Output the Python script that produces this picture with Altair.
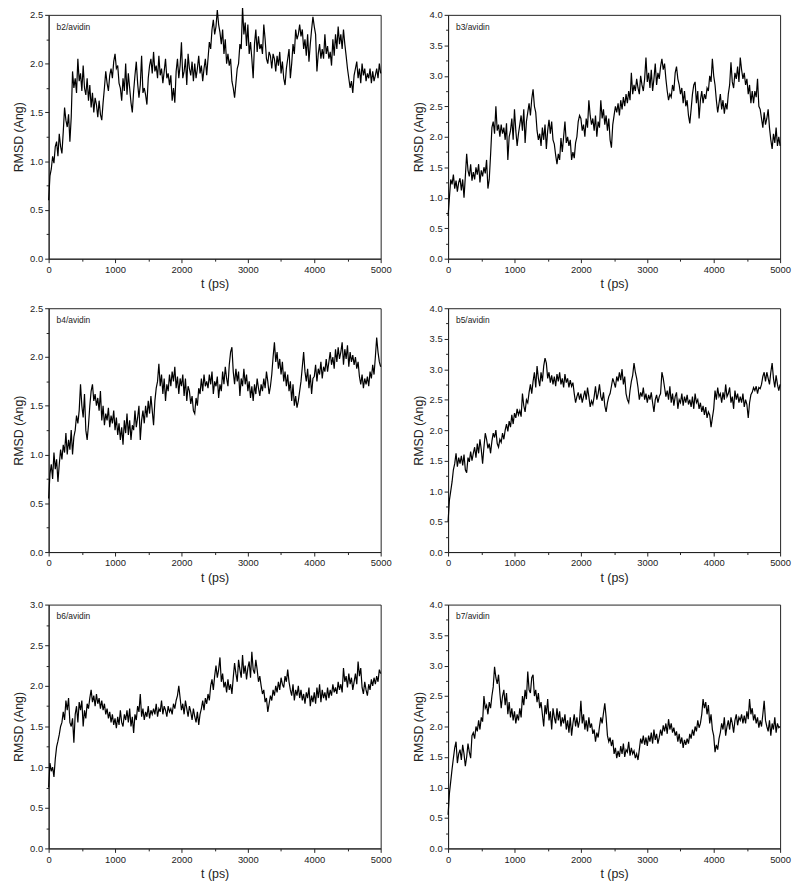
import altair as alt
import pandas as pd

t = list(range(0, 5001, 20))

b2 = [0.6, 0.85, 0.92, 1.05, 0.98, 1.15, 1.2, 1.05, 1.28, 1.15,
      1.08, 1.3, 1.55, 1.42, 1.35, 1.48, 1.2, 1.45, 1.92, 1.75,
      1.85, 1.7, 2.05, 1.82, 1.9, 1.72, 1.98, 1.75, 1.68, 1.85,
      1.62, 1.78, 1.55, 1.7, 1.5, 1.65, 1.58, 1.45, 1.62, 1.48,
      1.42, 1.6, 1.75, 1.92, 1.8, 1.72, 1.88, 1.95, 1.85, 2.02,
      2.1, 1.95, 1.98, 1.8, 1.75, 1.62, 1.85, 1.72, 2.0, 1.68,
      1.9, 1.75, 1.6, 1.5, 1.72, 1.88, 2.02, 1.8, 1.65, 1.78,
      2.08, 1.7, 1.75, 1.68, 1.58, 1.85, 1.98, 2.05, 1.9, 2.12,
      1.92, 1.98, 1.85, 2.08, 1.88, 1.95, 1.8, 1.92, 2.05, 1.85,
      1.9, 1.78, 1.88, 1.62, 1.75, 1.6, 1.92, 2.05, 1.85, 1.98,
      2.22, 1.85, 1.92, 2.05, 1.78, 2.1, 1.95, 1.88, 2.02, 1.82,
      2.0, 1.85, 1.95, 2.08, 1.9, 1.98, 1.82, 1.95, 2.05, 1.88,
      2.05, 2.22, 2.15, 2.35, 2.45, 2.3, 2.38, 2.55, 2.4, 2.32,
      2.2, 2.35, 2.1, 2.25, 2.0, 2.1, 1.98, 2.05, 1.82, 1.75,
      1.65, 1.8, 1.95, 2.0, 2.2, 2.15, 2.58, 2.3, 2.42, 2.18,
      2.4, 2.1, 2.22, 2.05, 1.85, 2.2, 2.35, 2.12, 2.28, 2.15,
      2.2, 2.1, 2.4, 2.25, 2.05, 2.0, 2.12, 2.08, 1.95, 2.1,
      2.05, 1.92, 2.08, 1.98, 2.12, 1.9, 2.02, 1.85, 1.78, 1.95,
      2.05, 2.15, 1.85, 2.0, 2.2, 2.1, 2.35, 2.25, 2.3, 2.4,
      2.28, 2.35, 2.15, 2.25, 2.08, 2.3, 2.02, 2.2, 2.35, 2.48,
      2.38, 2.3, 1.92, 2.1, 2.2, 2.05, 2.15, 2.05, 2.3, 2.1,
      2.18, 2.05, 2.12, 1.98, 2.25, 2.08, 2.3, 2.15, 2.38, 2.2,
      2.3, 2.15, 2.35, 2.2, 2.08, 1.95, 1.85, 1.75, 1.82, 1.7,
      1.88, 1.95, 2.02, 1.85, 1.95, 1.8, 2.0, 1.88, 1.95, 1.82,
      1.9, 1.85, 1.95, 1.8, 1.92, 1.82, 1.88, 1.95, 1.85, 2.0,
      1.9]

b3 = [0.7, 1.0, 1.3, 1.22, 1.38, 1.15, 1.28, 1.1, 1.25, 1.32,
      1.12, 1.3, 1.0, 1.35, 1.72, 1.45, 1.35, 1.55, 1.28, 1.42,
      1.3, 1.5, 1.38, 1.55, 1.25, 1.45, 1.35, 1.5, 1.4, 1.62,
      1.15, 1.3, 1.7, 2.15, 2.25, 2.05, 2.5, 2.1, 2.2, 2.0,
      2.2, 2.05, 2.15, 1.95, 2.22, 1.62, 2.0, 2.1, 2.3, 1.95,
      2.45, 2.1, 1.85, 2.05, 2.2, 2.35, 2.1, 2.45, 1.9, 2.25,
      2.4, 2.55, 2.35, 2.62, 2.78, 2.5, 2.4, 2.1, 1.95, 2.05,
      1.85, 2.15, 1.95, 2.2, 1.8, 2.1, 2.28, 2.05, 2.25, 1.95,
      1.88, 1.7, 1.55, 1.72, 1.62, 1.98, 1.75, 2.0, 2.25, 1.9,
      2.0, 1.85, 1.95, 1.62, 1.75, 1.65, 1.9, 2.0, 2.25, 2.35,
      2.3, 2.1, 2.2, 2.0, 2.3, 2.15, 2.6, 2.35, 2.2, 2.3,
      2.1, 2.35, 2.0, 2.25, 2.15, 2.6, 2.3, 2.45, 2.2, 2.35,
      2.1, 2.3, 1.95, 1.82, 2.2, 2.35, 2.5, 2.4, 2.55, 2.35,
      2.6, 2.45, 2.65, 2.5, 2.7, 2.55, 2.75, 2.6, 3.05, 2.7,
      2.85, 2.75, 2.95, 2.8, 2.7, 3.0, 2.85, 2.75, 2.95, 3.3,
      2.9, 3.05, 2.8, 3.1, 2.75, 2.95, 3.2, 2.85, 3.05, 2.95,
      3.15, 3.28, 3.1, 3.2, 2.95, 2.75, 2.6, 2.7, 2.65, 2.85,
      2.75, 3.05, 3.15, 2.95, 2.85, 2.7, 2.8, 2.55, 2.75, 2.5,
      2.6, 2.35, 2.22, 2.45, 2.7, 2.85, 2.9, 2.55, 2.75, 2.3,
      2.6, 2.75, 2.55, 2.7, 2.62, 2.8, 2.75, 3.0, 2.9, 3.28,
      3.0, 2.85, 2.6, 2.4, 2.55, 2.7, 2.45, 2.6, 2.38, 2.55,
      2.45, 2.7, 2.85, 3.22, 2.9, 2.8, 3.05, 2.95, 3.15, 2.9,
      3.3, 3.1, 2.95, 3.05, 2.85, 2.95, 2.7, 2.85, 2.55, 2.75,
      2.55, 2.75, 2.65, 2.95, 2.5, 2.45, 2.3, 2.15, 2.4, 2.2,
      2.3, 2.45, 2.15, 1.95, 1.8, 2.05, 1.9, 2.15, 1.85, 2.0,
      1.85]

b4 = [0.55, 0.8, 0.9, 0.75, 1.02, 0.85, 0.95, 0.72, 0.9, 1.05,
      0.95, 1.1, 1.02, 1.22, 1.0, 1.15, 1.05, 1.25, 1.0, 1.18,
      1.25, 1.4, 1.32, 1.45, 1.72, 1.5, 1.38, 1.62, 1.25, 1.15,
      1.3, 1.5, 1.65, 1.72, 1.55, 1.62, 1.5, 1.58, 1.45, 1.65,
      1.35, 1.5, 1.3, 1.42, 1.35, 1.48, 1.28, 1.4, 1.32, 1.45,
      1.25, 1.38, 1.2, 1.32, 1.15, 1.28, 1.1, 1.35, 1.22, 1.42,
      1.2, 1.35, 1.15, 1.3, 1.25, 1.45, 1.28, 1.38, 1.5, 1.15,
      1.35, 1.45, 1.32, 1.5, 1.38, 1.55, 1.42, 1.6, 1.45, 1.3,
      1.55, 1.68, 1.75, 1.93, 1.7, 1.82, 1.62, 1.78, 1.55, 1.72,
      1.65, 1.82, 1.7, 1.85, 1.75, 1.9, 1.68, 1.8, 1.62, 1.78,
      1.7, 1.82, 1.6, 1.78, 1.55, 1.7, 1.65, 1.52, 1.6, 1.45,
      1.42, 1.58, 1.5, 1.68, 1.62, 1.78, 1.65, 1.82, 1.7, 1.75,
      1.68, 1.82, 1.72, 1.85, 1.62, 1.75, 1.7, 1.8, 1.58, 1.72,
      1.65, 1.85, 1.72, 1.9, 1.78, 1.7, 1.92, 2.05, 2.1, 1.85,
      1.72, 1.88, 1.75, 1.85, 1.6, 1.78, 1.7, 1.88, 1.72, 1.82,
      1.65, 1.75, 1.58, 1.7, 1.55, 1.72, 1.62, 1.78, 1.68, 1.6,
      1.72, 1.65, 1.78, 1.68, 1.85, 1.75, 1.62, 1.7, 1.82, 2.0,
      2.15, 1.95, 2.05, 1.88, 1.98, 1.82, 1.95, 1.75, 1.85, 1.7,
      1.82, 1.65, 1.75, 1.55, 1.72, 1.5, 1.6, 1.48, 1.55, 1.65,
      1.75, 1.9, 2.05, 1.85, 1.75, 1.88, 1.68, 1.82, 1.62, 1.78,
      1.8, 1.92, 1.75, 1.88, 1.82, 1.95, 1.78, 1.9, 1.85, 1.98,
      1.85, 1.95, 2.05, 1.92, 2.0, 1.88, 2.08, 1.95, 2.1, 1.98,
      2.05, 2.15, 1.92, 2.08, 1.98, 2.12, 1.9, 2.05, 1.95, 2.02,
      1.92, 2.0, 1.88, 1.95, 1.8, 1.72, 1.82, 1.68, 1.78, 1.72,
      1.8, 1.7, 1.85, 1.78, 1.92, 1.82, 2.0, 2.2, 2.05, 1.95,
      1.9]

b5 = [0.5, 0.85, 1.0, 1.15, 1.35, 1.45, 1.62, 1.4, 1.55, 1.45,
      1.58, 1.42, 1.6, 1.35, 1.3, 1.55, 1.48, 1.65, 1.5, 1.62,
      1.72, 1.55, 1.78, 1.62, 1.85, 1.68, 1.45, 1.72, 1.95, 1.85,
      1.7, 1.78, 1.62, 1.82, 1.95, 1.88, 2.0, 1.78, 1.72, 1.85,
      1.8, 1.95, 1.85, 2.0, 2.1, 1.98, 2.15, 2.05, 2.25, 2.1,
      2.28, 2.2, 2.35, 2.25, 2.32, 2.22, 2.6, 2.4, 2.3, 2.5,
      2.45, 2.62, 2.75, 2.6, 2.8, 2.95, 2.7, 3.05, 2.85, 2.72,
      2.95, 2.8, 3.05, 3.18, 3.1, 2.85, 2.95, 2.78, 2.9, 2.75,
      2.88, 2.72, 2.92, 2.8, 2.95, 2.75, 2.85, 2.7, 2.92, 2.78,
      2.85, 2.7, 2.82, 2.72, 2.78, 2.6, 2.45, 2.55, 2.62, 2.5,
      2.6, 2.45, 2.55, 2.65, 2.5, 2.7, 2.55, 2.38, 2.48, 2.42,
      2.55, 2.72, 2.5, 2.6, 2.75, 2.55, 2.48, 2.62, 2.4, 2.3,
      2.45, 2.55, 2.6, 2.72, 2.85, 2.78, 2.7, 2.88, 2.8, 2.95,
      2.82, 3.0, 2.75, 2.88, 2.6, 2.5, 2.45, 2.65, 2.8, 2.9,
      3.1, 2.95, 2.85, 2.7, 2.5, 2.62, 2.55, 2.7, 2.5, 2.6,
      2.45, 2.58, 2.5, 2.62, 2.45, 2.3, 2.5, 2.58, 2.45, 2.55,
      2.6, 2.95, 2.85, 2.7, 2.55, 2.65, 2.5, 2.72, 2.45, 2.6,
      2.4, 2.55, 2.62, 2.35, 2.5, 2.45, 2.6, 2.4, 2.55, 2.45,
      2.58, 2.42, 2.5, 2.38, 2.55, 2.35, 2.6, 2.45, 2.5, 2.35,
      2.45, 2.3, 2.4, 2.25, 2.38, 2.2, 2.3, 2.25, 2.05, 2.2,
      2.35, 2.65, 2.5, 2.7, 2.55, 2.6, 2.45, 2.62, 2.5, 2.75,
      2.55, 2.6, 2.7, 2.45, 2.55, 2.35, 2.65, 2.5, 2.6, 2.45,
      2.55, 2.45, 2.6, 2.38, 2.5, 2.42, 2.2, 2.45, 2.58, 2.62,
      2.7, 2.65, 2.72, 2.6, 2.7, 2.68, 2.75, 2.88, 2.95, 2.8,
      2.95, 2.85, 2.75, 2.95, 3.1, 2.85, 2.7, 2.9, 2.75, 2.65,
      2.75]

b6 = [0.75, 1.05, 0.95, 1.0, 0.88, 1.1, 1.25, 1.32, 1.4, 1.5,
      1.55, 1.68, 1.58, 1.82, 1.7, 1.85, 1.55, 1.5, 1.6, 1.3,
      1.65, 1.75, 1.55, 1.8, 1.7, 1.82, 1.5, 1.7, 1.6, 1.78,
      1.72, 1.85, 1.95, 1.8, 1.88, 1.75, 1.9, 1.78, 1.85, 1.72,
      1.82, 1.7, 1.78, 1.65, 1.72, 1.6, 1.68, 1.55, 1.65, 1.52,
      1.6, 1.48, 1.62, 1.52, 1.7, 1.55, 1.5, 1.65, 1.58, 1.7,
      1.55, 1.72, 1.5, 1.62, 1.42, 1.65, 1.58, 1.75, 1.68, 1.9,
      1.62, 1.72, 1.58, 1.68, 1.62, 1.75, 1.6, 1.7, 1.65, 1.72,
      1.65, 1.78, 1.62, 1.72, 1.68, 1.82, 1.65, 1.75, 1.7, 1.62,
      1.75, 1.68, 1.72, 1.65, 1.78, 1.72, 1.82, 1.88, 2.0, 1.85,
      1.7, 1.78, 1.65, 1.82, 1.72, 1.62, 1.75, 1.68, 1.58, 1.72,
      1.62, 1.55, 1.68, 1.52, 1.65, 1.72, 1.82, 1.7, 1.85, 1.78,
      1.9, 1.82, 2.0, 2.08, 1.95, 2.12, 2.25, 2.1, 2.2, 2.35,
      2.05, 2.15, 1.98, 2.05, 1.92, 2.08, 1.95, 2.02, 1.9, 2.1,
      2.28, 2.15, 2.05, 2.32, 2.2, 2.1, 2.38, 2.15, 2.25, 2.08,
      2.22, 2.3, 2.1, 2.42, 2.2, 2.15, 2.32, 2.2, 2.05, 2.12,
      2.0, 1.9, 1.95, 1.8, 1.85, 1.68, 1.78, 1.88, 1.82, 1.95,
      1.88, 2.0, 1.92, 2.05, 1.95, 2.1, 2.02, 1.98, 2.12, 2.05,
      2.2, 2.05, 1.95, 1.88, 2.02, 1.82, 1.95, 1.88, 2.0, 1.85,
      1.95, 1.82, 1.9, 1.78, 1.92, 1.85, 1.98, 1.75, 1.88, 1.8,
      1.92, 1.78, 1.98, 1.85, 2.02, 1.8, 1.95, 1.85, 1.92, 1.82,
      1.98, 1.85, 1.95, 1.88, 2.02, 1.92, 1.98, 1.9, 2.05, 1.95,
      2.02, 1.92, 2.22, 2.05, 2.12, 1.98, 2.15, 2.02, 2.1, 1.95,
      2.05, 2.15, 2.02, 2.3, 2.12, 2.22, 1.98, 1.9, 2.05, 1.95,
      1.88, 2.02, 1.95, 2.08, 2.0, 2.1, 2.02, 2.12, 2.05, 2.2,
      2.15]

b7 = [0.55, 0.9, 1.1, 1.3, 1.48, 1.65, 1.75, 1.4, 1.55, 1.62,
      1.45, 1.7, 1.55, 1.35, 1.5, 1.72, 1.58, 1.48, 1.85, 1.9,
      1.8, 2.0, 1.92, 2.1, 1.95, 2.15, 2.08, 2.5, 2.3, 2.35,
      2.2, 2.4, 2.3, 2.5, 2.65, 2.98, 2.8, 2.7, 2.85, 2.55,
      2.3, 2.5, 2.6, 2.35, 2.55, 2.2, 2.4, 2.15, 2.3, 2.1,
      2.25, 2.05, 2.2, 2.1, 2.3, 2.15, 2.5, 2.35, 2.6, 2.45,
      2.9, 2.6, 2.55, 2.8, 2.85, 2.5, 2.6, 2.4, 2.55, 2.3,
      2.4, 2.2, 2.0, 2.35, 2.2, 2.45, 2.1, 2.25, 1.95, 2.3,
      2.15, 2.05, 2.3, 2.1, 2.25, 2.0, 2.15, 2.05, 2.2, 1.95,
      2.1, 1.9, 2.15, 1.85, 2.05, 2.2, 2.0, 2.15, 1.98, 2.1,
      2.42, 2.05, 2.2, 1.95, 2.1, 1.92, 2.15, 1.98, 2.05, 1.88,
      1.95, 1.75, 1.9, 1.82, 2.0, 2.15, 2.05, 2.22, 2.38, 2.15,
      1.85, 1.75, 1.82, 1.68, 1.78, 1.55, 1.65, 1.48, 1.6, 1.5,
      1.68, 1.55, 1.72, 1.5, 1.62, 1.58, 1.75, 1.52, 1.65, 1.55,
      1.6, 1.48, 1.55, 1.45, 1.62, 1.8, 1.72, 1.85, 1.7, 1.82,
      1.68, 1.85, 1.75, 1.9, 1.72, 1.95, 1.78, 1.88, 1.72, 1.82,
      1.95, 1.85, 2.02, 1.92, 2.05, 1.88, 2.12, 1.95, 2.05, 1.9,
      1.98, 1.85, 1.92, 1.75, 1.88, 1.72, 1.82, 1.65, 1.78, 1.7,
      1.8, 1.72, 1.88, 1.8, 1.95, 1.85, 2.0, 1.92, 2.1, 1.98,
      2.05, 2.2, 2.45, 2.3, 2.4, 2.2, 2.35, 2.05, 2.2, 1.95,
      1.85, 1.58, 1.7, 1.62, 1.8, 1.9, 2.05, 1.95, 2.15, 1.85,
      2.0, 2.1, 1.95, 2.15, 2.05, 1.9, 2.1, 2.2, 2.02, 2.15,
      2.1, 2.2, 2.05, 2.18, 2.05, 2.25, 2.12, 2.45, 2.2, 2.3,
      2.1, 2.2, 2.05, 2.15, 1.98, 2.1, 2.0, 2.2, 2.42, 2.1,
      2.0, 1.92, 2.1, 1.85, 2.05, 1.95, 2.15, 1.9, 2.05, 1.98,
      2.0]

panels = [
    ("b2/avidin", b2, 2.5),
    ("b3/avidin", b3, 4.0),
    ("b4/avidin", b4, 2.5),
    ("b5/avidin", b5, 4.0),
    ("b6/avidin", b6, 3.0),
    ("b7/avidin", b7, 4.0),
]

x_ticks = list(range(0, 5001, 500))

FONT = "Liberation Sans"
W, H = 335, 246


def panel(name, vals, ymax):
    df = pd.DataFrame({"t": t, "rmsd": vals})
    y_ticks = [i * 0.25 for i in range(int(round(ymax / 0.25)) + 1)]
    line = alt.Chart(df).mark_line(color="black", strokeWidth=1.2).encode(
        x=alt.X(
            "t:Q",
            scale=alt.Scale(domain=[0, 5000], nice=False),
            axis=alt.Axis(
                values=x_ticks,
                title="t (ps)",
                labelExpr="datum.value % 1000 == 0 ? datum.label : ''",
                tickSize={"condition": {"test": "datum.value % 1000 == 0", "value": 4}, "value": 2.5},
                labelFlush=False,
                labelOverlap=False,
                format="d",
            ),
        ),
        y=alt.Y(
            "rmsd:Q",
            scale=alt.Scale(domain=[0, ymax], nice=False),
            axis=alt.Axis(
                values=y_ticks,
                title="RMSD (Ang)",
                labelExpr="datum.value % 0.5 == 0 ? format(datum.value, '.1f') : ''",
                tickSize={"condition": {"test": "datum.value % 0.5 == 0", "value": 4}, "value": 2.5},
                labelFlush=False,
                labelOverlap=False,
            ),
        ),
    )
    label = alt.Chart(pd.DataFrame({"name": [name]})).mark_text(
        align="left", baseline="middle", font=FONT, fontSize=8.5, color="#222"
    ).encode(text="name:N", x=alt.value(8), y=alt.value(12))
    return alt.layer(line, label).properties(width=W, height=H)


charts = [panel(n, v, m) for n, v, m in panels]
row1 = alt.hconcat(charts[0], charts[1], spacing=19)
row2 = alt.hconcat(charts[2], charts[3], spacing=19)
row3 = alt.hconcat(charts[4], charts[5], spacing=19)
top = alt.vconcat(row1, row2, spacing=11)
chart = alt.vconcat(top, row3, spacing=14).properties(
    padding={"left": 4, "top": -8, "right": 0, "bottom": 0}
).configure_view(
    stroke="#222", strokeWidth=1
).configure_axis(
    grid=False,
    domainColor="#222",
    tickColor="#222",
    labelFont=FONT,
    labelFontSize=9.5,
    labelColor="#222",
    labelPadding=2,
    titleFont=FONT,
    titleFontSize=12.5,
    titleFontWeight="normal",
    titleColor="#222",
    titlePadding=4,
)

chart.save("out.html", embed_options={"renderer": "svg", "actions": False})
